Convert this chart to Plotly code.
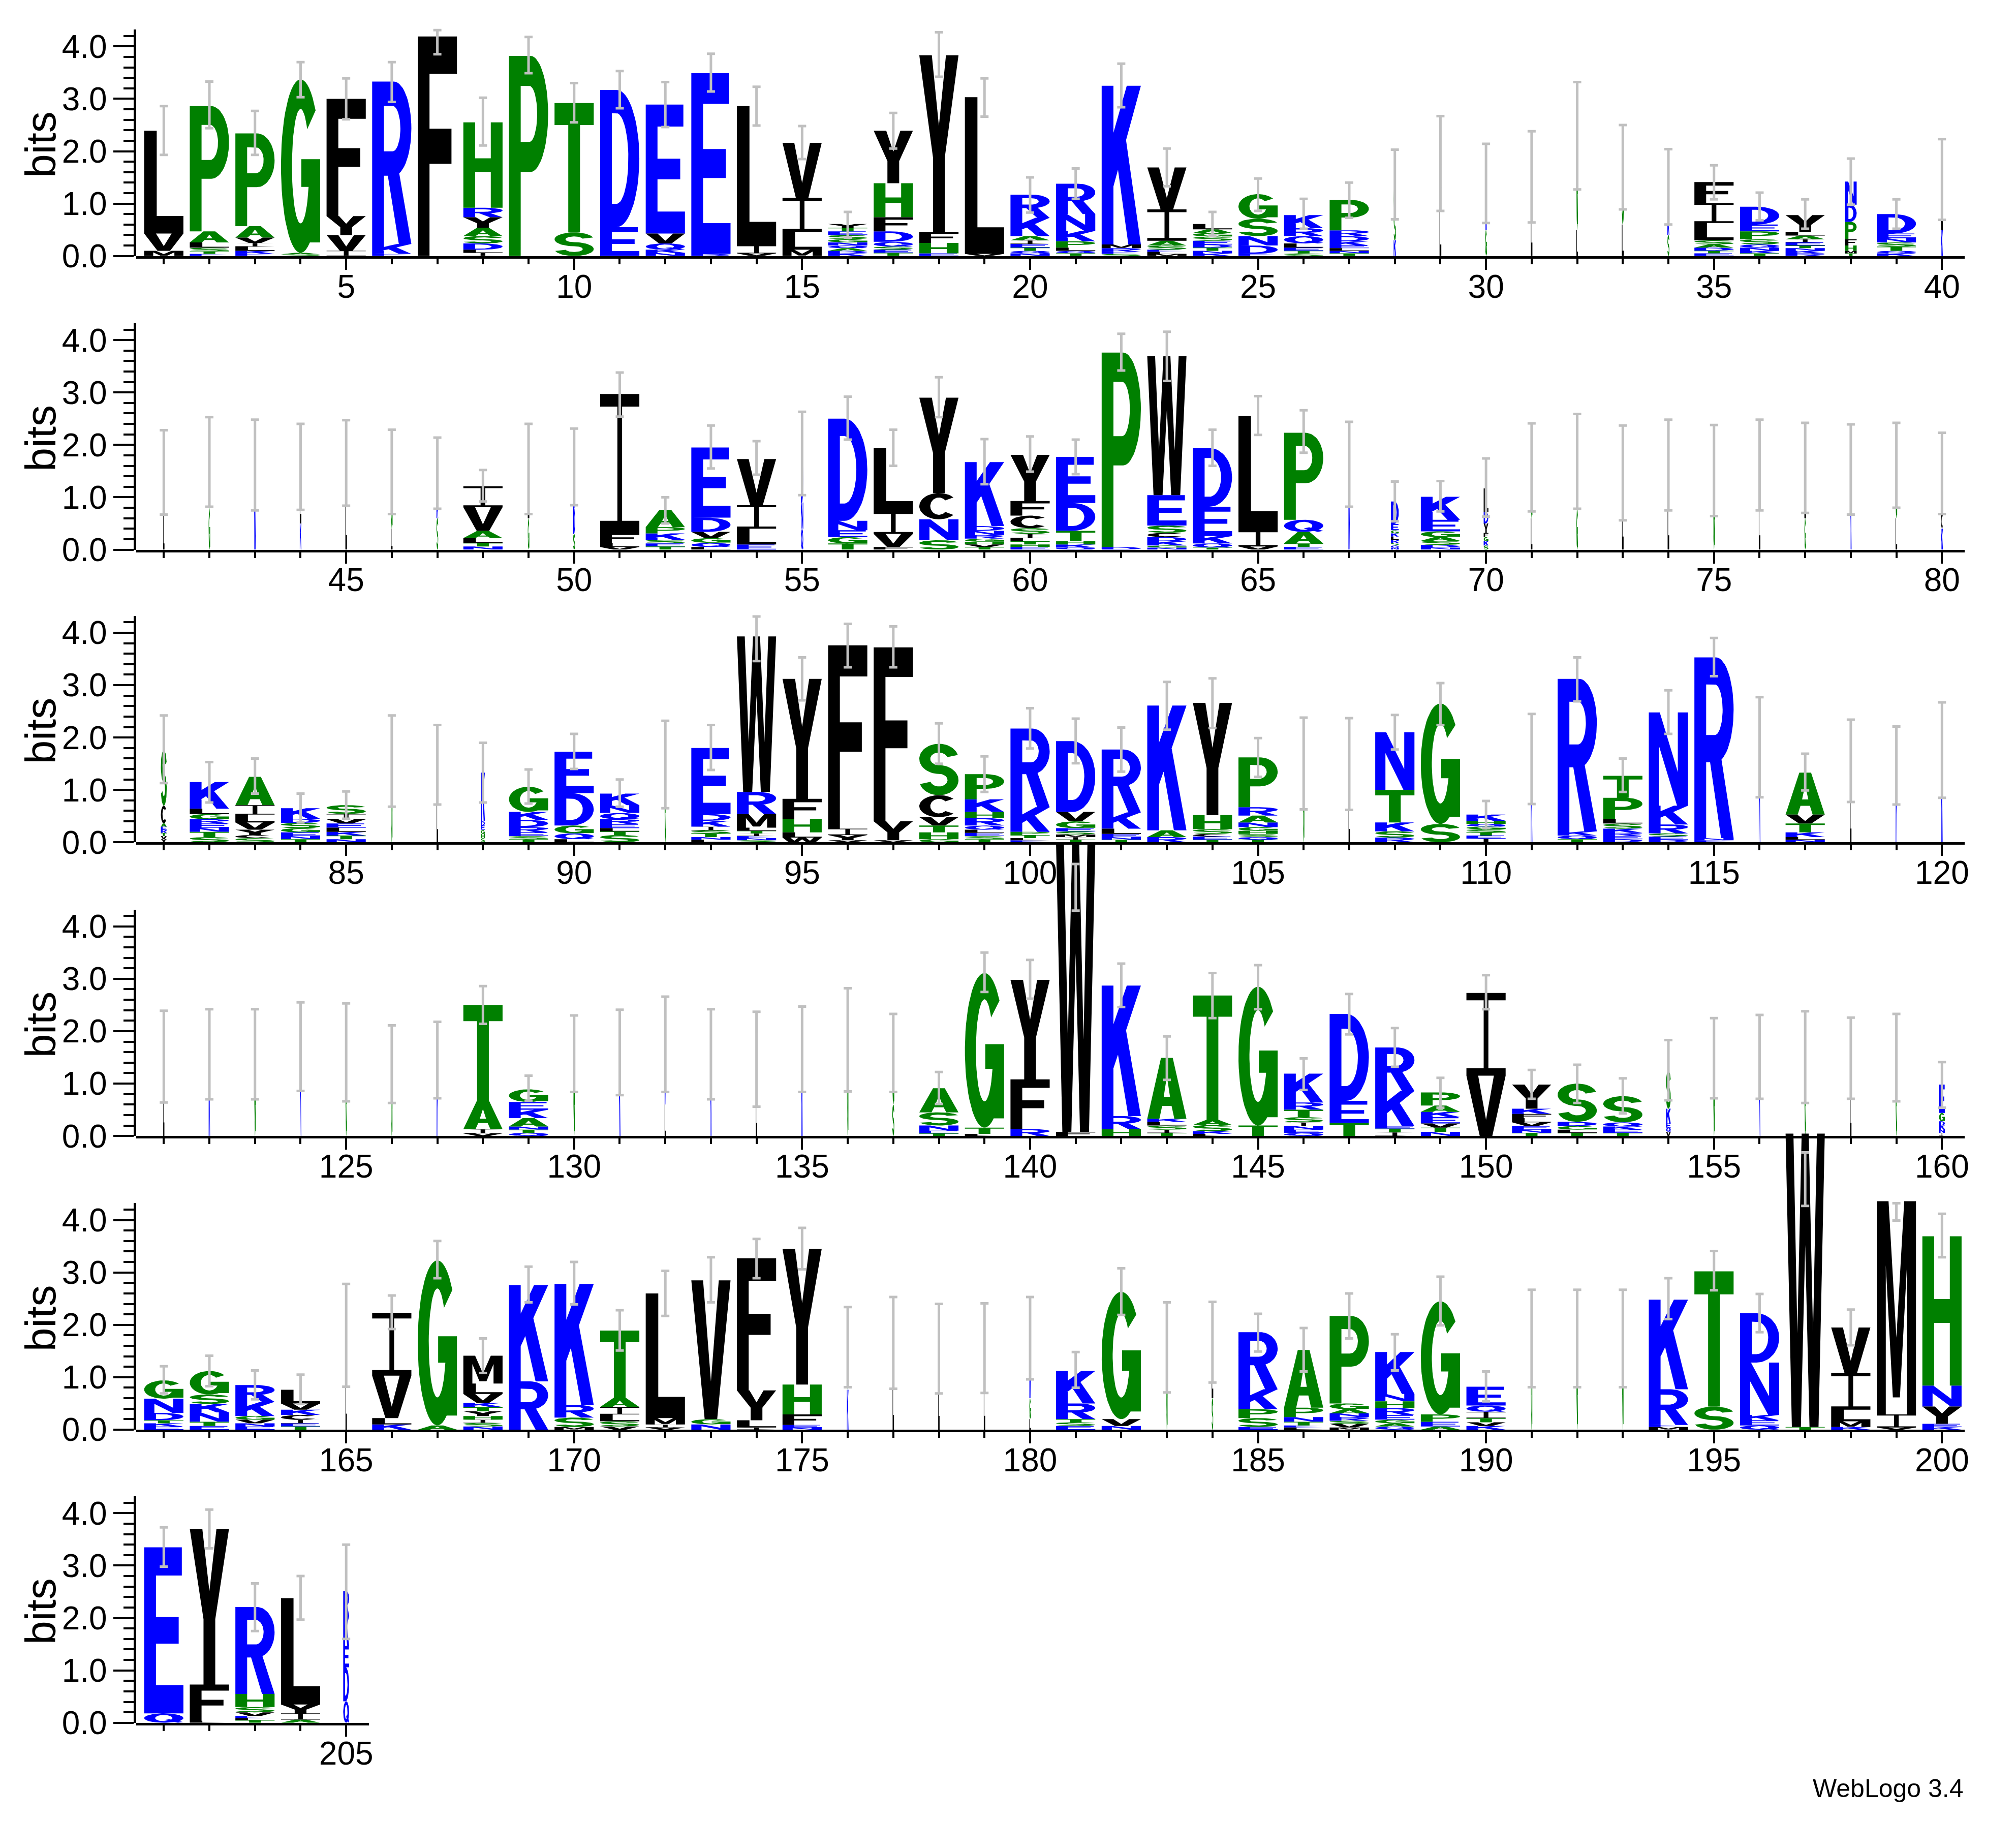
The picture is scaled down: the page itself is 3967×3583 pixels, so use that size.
import math
import plotly.graph_objects as go

# ---------------- data ----------------
# letter stacks per position, bottom -> top, "<letter><bits>"
STACKS = [
 "M.1 V.33 L1.96", "E.04 T.05 S.07 L.1 A.21 P2.39", "E.04 K.06 L.08 I.07 V.1 A.22 P1.77", "S.03 A.03 G3.31",
 "I.1 V.3 Y.36 F2.24", "E.04 K.19 R3.1", "F4.19", "I.06 L.06 D.12 S.14 A.16 Y.2 R.18 H1.63", "P3.82", "S.45 T2.47",
 "E.55 D2.62", "N.06 K.06 Q.12 V.19 E2.46", "D.04 E3.45", "V.05 I.15 L2.66", "M.12 L.34 I.65 V1.05",
 "K.05 D.05 A.05 Q.05 N.06 G.06 S.08 E.07 T.07 Y.07", "T.06 E.06 S.06 Q.09 D.2 F.27 H.65 Y1.0", "E.05 H.2 F.21 Y3.37",
 "V.04 L2.99", "N.05 Q.05 T.06 E.07 I.07 A.08 K.35 R.44",
 "T.05 Q.05 L.06 P.12 K.2 N.32 R.58", "S.04 E.04 R.07 M.07 K3.03", "M.04 L.04 E.04 S.08 A.09 I.6 V.8",
 "K.05 N.05 T.06 D.06 E.07 S.08 G.07 A.07 L.1", "E.04 D.16 N.18 S.33 G.47", "S.05 T.05 E.06 L.08 Q.14 R.15 K.25",
 "T.05 N.05 L.05 E.05 K.08 D.1 R.11 P.58", "K.3 S.5 G.56", "L1.3 K.46", "G.5 K.88",
 "L1.51", "L.5 G1.8", "L.6 S1.09", "S.4 K.3 L.62", "E.05 T.05 D.06 A.06 S.08 L.33 I.38 F.4",
 "T.05 K.05 N.06 Q.06 S.1 P.15 E.13 D.34", "R.05 K.05 N.05 T.05 E.06 I.06 A.07 L.07 Y.32",
 "T.05 M.05 H.1 F.12 P.33 D.33 N.44", "K.05 Q.05 T.08 S.08 N.08 E.09 D.37", "K.5 L.96",
 "L.7 K.77", "G.8 K.87", "K1.61", "K.5 L1.08", "L1.65", "L.4 G1.08", "S.6 K.3 G.56", "N.06 T.07 L.09 A.14 V.45 I.4",
 "G.6 L.94", "S.3 D.5 K.78",
 "V.05 L.08 F.18 I2.66", "T.06 E.06 S.07 K.12 P.12 A.33", "L.05 Q.08 G.09 V.12 D.27 E1.34", "E.1 L.3 I.45 V.88",
 "Q.4 N.5 D.93", "T.12 G.12 E.13 N.18 D1.95", "F.05 V.25 I.42 L1.22", "S.18 N.4 C.5 Y1.82",
 "T.05 V.05 H.05 G.06 R.07 N.08 D.09 K1.22", "E.05 H.05 T.06 L.06 I.08 S.11 C.24 F.28 Y.88",
 "Q.04 K.06 H.06 T.2 D.53 E.88", "D.05 P3.71", "N.04 G.04 K.08 D.08 C.08 S.14 E.58 W2.65",
 "T.04 Q.08 K.14 E.56 D1.12", "V.06 I.3 L2.19", "E.05 T.07 A.22 Q.23 P1.66", "K1.63",
 "N.04 Q.04 S.05 R.06 L.06 K.06 G.06 E.12 D.43", "N.04 D.05 S.08 A.07 G.11 E.22 K.44",
 "S.08 K.08 G.08 F.08 Y.18 D.22 L.45",
 "L.6 G.97", "G.8 L.88", "L1.47", "L1.61", "G1.51", "L1.61", "G.6 L.96", "K1.53", "L.6 G1.01", "K.4 C.3 G.76",
 "Y.06 V.06 T.06 R.06 E.06 A.06 C.34 S1.06", "S.1 T.1 N.08 E.08 R.08 G.1 L.1 K.51",
 "S.08 C.06 Y.1 V.14 L.15 I.18 A.54", "T.06 N.06 E.07 G.08 S.1 D.08 K.2", "N.06 T.07 K.07 L.08 E.08 V.08 I.1 S.17",
 "G1.55", "L1.48", "S.08 H.08 G.08 E.08 D.08 K.93", "T.06 S.06 E.07 R.1 D.14 K.15 G.48", "L.06 Q.11 G.15 D.62 E.79",
 "S.14 T.07 L.06 E.08 R.09 Q.12 N.15 K.22", "G1.48", "L.05 N.05 T.07 S.06 I.07 K.11 D.13 E1.26",
 "S.04 N.04 E.04 I.05 T.05 L.06 M.26 R.42 W2.97", "W.09 L.1 H.26 F.38 Y2.29", "V.04 Y.1 I.12 F3.5",
 "V.04 Y.36 F3.32", "G.06 H.13 T.13 V.16 C.42 S.98", "T.06 S.06 E.06 L.06 Q.08 R.14 H.12 K.24 P.48",
 "E.04 L.04 T.06 P.06 K.47 R1.5",
 "T.05 I.05 M.05 S.06 E.06 G.13 V.18 D1.35", "T.05 N.05 E.06 L.1 K.31 R1.2", "R.1 A.13 K2.38",
 "T.05 E.06 C.05 S.09 H.27 Y2.14", "T.05 Q.05 S.06 H.06 G.07 N.09 A.13 R.16 P.95", "G1.5", "L1.5",
 "R.09 S.12 K.17 T.62 N1.1", "S.35 G2.3", "I.07 E.06 T.06 S.06 G.05 Q.05 H.06 K.12",
 "K1.59", "T.06 Q.07 K.08 R2.91", "D.06 E.06 R.06 K.08 S.1 L.09 P.4 T.42", "D.05 E.06 S.06 R.17 K.36 N1.78",
 "E.04 N.04 R3.45", "K1.81", "N.05 L.05 K.09 T.17 V.17 A.8", "L1.55", "K1.46", "K1.76",
 "L1.52", "K1.56", "G1.56", "K1.70", "G1.60", "G1.37", "K1.45", "V.05 I.08 A.55 T1.82",
 "Q.06 T.06 N.06 A.16 K.16 E.15 G.24", "G1.57",
 "K1.59", "L.6 K1.15", "K1.56", "L1.46", "K1.66", "G1.83", "S.6 G.99", "T.05 E.05 N.1 S.25 A.46",
 "L.04 T.12 G2.95", "R.13 F.95 Y1.9",
 "F.08 W5.49", "H.13 R.25 K2.49", "T.06 I.06 S.08 L.07 K.06 A1.16", "L.04 K.05 S.12 A.1 T2.37", "T.2 G2.65",
 "Q.06 E.06 N.07 I.07 S.1 T.14 R.14 K.55", "T.25 E.42 D1.66", "I.07 T.07 E.05 K.67 R.83",
 "N.08 T.08 V.08 E.12 K.1 A.12 P.25", "V1.15 I1.58",
 "T.06 N.06 E.07 V.07 L.08 F.08 K.1 Y.46", "T.06 L.06 G.07 D.08 S.73", "T.06 E.06 K.06 Q.08 S.5",
 "V.08 Q.08 E.08 K.28 S.72", "G1.49", "K1.51", "G1.50", "L1.48", "G1.49", "I.06 N.07 K.07 D.08 G.16 E.54",
 "E.06 K.06 T.06 D.14 N.27 G.35", "E.07 T.08 N.18 K.16 S.18 G.45", "E.06 N.06 V.07 G.07 K.27 R.32",
 "T.06 E.06 I.07 C.09 K.1 V.12 L.26", "L1.8", "K.1 L.12 V.81 I1.2", "A.08 G3.15",
 "N.06 S.07 I.06 H.07 Y.09 T.08 K.08 V.17 L.2 M.53", "R.92 K1.84", "M.05 S.18 R.24 K2.31",
 "V.06 S.1 L.13 I.14 A.18 T1.28", "V.04 I.06 M.12 L2.38", "N.1 G.1 V2.65", "I.04 L.14 Y.57 F2.52",
 "N.04 E.05 F.2 H.57 Y2.59", "K.76 G.8", "L1.65", "L1.54", "L1.55", "L.2 G.4 K1.14",
 "E.07 S.07 T.06 R.3 K.62", "N.07 V.13 G2.43", "G1.57", "S.6 L1.07", "E.05 S.17 P.17 K.38 R1.09",
 "L.04 E.04 T.07 N.09 P.18 A1.1", "M.04 V.07 S.06 R.07 N.07 A.08 G.11 P1.67",
 "Q.06 A.06 G.07 E.09 R.13 H.13 N.14 K.8", "A.06 E.09 P.14 G2.16", "K.07 V.07 T.08 I.12 Q.12 E.36",
 "G1.74", "G1.74", "G1.74", "M.05 E.04 R.68 K1.71", "S.44 T2.58", "Q.08 E.1 K.1 N1.0 D.94", "T.05 W5.6",
 "K.05 M.11 L.22 I.7 V.87", "V.04 I.25 M4.07", "K.05 E.06 Y.33 N.4 H2.85",
 "Q.18 E3.17", "L.04 F.69 Y2.97", "T.05 L.04 E.04 V.07 S.1 H.25 R1.66", "A.06 I.12 Y.17 L2.03",
 "Q.41 D.65 E.41 K.57 R.47",
]

# fraction of full letter width (columns with many gaps are narrow)
COL_WIDTH = [
 1, 1, 1, 1, 1, 1, 1, 1, 1, 1,
 1, 1, 1, 1, 1, 1, 1, 1, 1, 1,
 1, 1, 1, 1, 1, 1, 1, .06, .045, .045,
 .04, .04, .05, .05, 1, 1, 1, .3, 1, .045,
 .035, .04, .04, .04, .04, .04, .045, 1, .04, .05,
 1, 1, 1, 1, .06, 1, 1, 1, 1, 1,
 1, 1, 1, 1, 1, 1, .04, .2, 1, .12,
 .04, .04, .04, .04, .04, .04, .04, .04, .04, .05,
 .15, 1, 1, 1, 1, .035, .035, .1, 1, 1,
 1, .04, 1, 1, 1, 1, 1, 1, 1, 1,
 1, 1, 1, 1, 1, .035, .035, 1, 1, 1,
 .04, 1, 1, 1, 1, .04, 1, .035, .035, .035,
 .03, .035, .035, .035, .035, .035, .035, 1, 1, .035,
 .035, .035, .035, .035, .035, .035, .05, 1, 1, 1,
 1, 1, 1, 1, 1, 1, 1, 1, 1, 1,
 1, 1, 1, .12, .035, .035, .035, .035, .035, .15,
 1, 1, 1, 1, .035, 1, 1, 1, 1, 1,
 1, 1, 1, 1, 1, .04, .035, .035, .035, .04,
 1, 1, .035, .04, 1, 1, 1, 1, 1, 1,
 .035, .035, .035, 1, 1, 1, 1, 1, 1, 1,
 1, 1, 1, 1, .15,
]

# error bar ends (bits)
ERR_LO = [
 1.93, 2.44, 1.93, 3.03, 2.61, 2.94, 3.85, 2.11, 3.49, 2.55,
 2.82, 2.46, 3.14, 2.49, 1.85, .35, 2.05, 3.42, 2.66, .83,
 1.09, 2.84, 1.33, .39, .86, .52, .73, .70, .86, .63,
 .64, 1.27, .89, .60, 1.08, .68, .52, .98, .52, .69,
 .67, .82, .75, .76, .84, .68, .78, .92, .68, .85,
 2.54, .50, 1.55, 1.43, 1.04, 2.10, 1.60, 2.53, 1.25, 1.49,
 1.44, 3.42, 3.22, 1.60, 2.19, 1.85, .82, .54, .73, .63,
 .73, .78, .56, .75, .64, .75, .70, .67, .80, .68,
 1.13, .76, .93, .38, .45, .68, .72, .76, .74, 1.40,
 .68, .65, 1.38, 3.46, 2.71, 3.34, 3.34, 1.50, .96, 1.79,
 1.51, 1.35, 2.15, 2.18, 1.25, .63, .62, 1.77, 2.24, .27,
 .73, 2.69, .96, 2.07, 3.17, .86, .99, .77, .72, .85,
 .64, .70, .70, .86, .66, .63, .72, 2.14, .67, .84,
 .78, .84, .70, .56, .84, .85, .84, .61, 2.75, 2.62,
 4.30, 2.46, 1.07, 2.25, 2.42, .88, 1.94, 1.32, .54, 2.42,
 .71, .63, .43, .68, .72, .71, .63, .71, .66, .54,
 .69, .83, .58, .49, .82, 1.92, 2.89, 1.08, 2.43, 2.39,
 1.51, 2.17, 2.43, 2.89, 3.06, .81, .78, .69, .70, .96,
 .80, 2.19, .71, .90, 1.49, 1.11, 1.74, 1.13, 1.99, .54,
 .81, .81, .81, 2.11, 2.66, 1.86, 4.27, 1.61, 3.99, 3.29,
 2.98, 3.33, 1.75, 1.97, 1.60,
]
ERR_HI = [
 2.86, 3.33, 2.77, 3.70, 3.39, 3.70, 4.31, 3.02, 4.18, 3.30,
 3.53, 3.32, 3.86, 3.23, 2.48, .84, 2.73, 4.27, 3.39, 1.50,
 1.67, 3.67, 2.05, .84, 1.48, 1.09, 1.40, 2.03, 2.67, 2.14,
 2.38, 3.32, 2.50, 2.04, 1.73, 1.21, 1.08, 1.86, 1.08, 2.23,
 2.28, 2.53, 2.48, 2.40, 2.47, 2.29, 2.14, 1.52, 2.40, 2.31,
 3.38, 1.00, 2.37, 2.07, 2.63, 2.92, 2.29, 3.29, 2.11, 2.16,
 2.10, 4.12, 4.16, 2.29, 2.93, 2.66, 2.44, 1.30, 1.31, 1.74,
 2.41, 2.59, 2.37, 2.48, 2.38, 2.48, 2.42, 2.39, 2.42, 2.23,
 2.42, 1.53, 1.60, .93, .97, 2.42, 2.24, 1.90, 1.39, 2.07,
 1.20, 2.32, 2.24, 4.31, 3.53, 4.17, 4.12, 2.27, 1.64, 2.56,
 2.36, 2.19, 3.06, 3.13, 1.99, 2.38, 2.37, 2.43, 3.04, .79,
 2.45, 3.53, 1.60, 2.90, 3.90, 2.77, 1.69, 2.34, 2.21, 2.67,
 2.39, 2.42, 2.42, 2.55, 2.53, 2.11, 2.18, 2.86, 1.15, 2.30,
 2.41, 2.66, 2.42, 2.37, 2.47, 2.82, 2.33, 1.22, 3.50, 3.36,
 5.19, 3.29, 1.90, 3.11, 3.26, 1.48, 2.71, 2.06, 1.11, 3.07,
 1.26, 1.36, 1.10, 1.83, 2.25, 2.31, 2.38, 2.26, 2.33, 1.41,
 1.21, 1.41, 1.13, 1.05, 2.78, 2.56, 3.60, 1.74, 3.11, 3.20,
 2.28, 3.03, 3.29, 3.64, 3.85, 2.34, 2.53, 2.40, 2.41, 2.53,
 1.48, 3.08, 2.43, 2.44, 2.21, 1.94, 2.60, 1.82, 2.92, 1.11,
 2.67, 2.67, 2.67, 2.89, 3.41, 2.59, 5.29, 2.29, 4.32, 4.12,
 3.73, 4.07, 2.66, 2.80, 3.40,
]

ROW_RANGES = [(1, 40), (41, 80), (81, 120), (121, 160), (161, 200), (201, 205)]
Y_TICKS = [0, 1, 2, 3, 4]
Y_TICK_TEXT = ["0.0", "1.0", "2.0", "3.0", "4.0"]
MAX_BITS = math.log2(20)

# ---------------- styling / layout ----------------
W, H = 3967, 3583
PX_PER_BIT = 104.2
PX_PER_POS = 89.9
BASE_PX = [499, 1083, 1665, 2249, 2833, 3416]
X_LEFT_PX = 261
LETTER_W = 0.86
BLUE, GREEN, BLACK = "#0000ff", "#008000", "#000000"
ERR_COLOR = "#c0c0c0"
FONT = "Liberation Sans, Arial, Helvetica, sans-serif"

COLOR_OF = {}
for c in "RKDENQ":
    COLOR_OF[c] = BLUE
for c in "SGHTAP":
    COLOR_OF[c] = GREEN
for c in "YVMCLFIW":
    COLOR_OF[c] = BLACK


# ---------------- glyph outlines in a unit box ----------------
def arc(cx, cy, rx, ry, a0, a1, step=6):
    n = max(2, int(abs(a1 - a0) / step) + 1)
    pts = []
    for i in range(n):
        a = math.radians(a0 + (a1 - a0) * i / (n - 1))
        pts.append((cx + rx * math.cos(a), cy + ry * math.sin(a)))
    return pts


def area(p):
    s = 0
    for i in range(len(p)):
        x0, y0 = p[i]
        x1, y1 = p[(i + 1) % len(p)]
        s += x0 * y1 - x1 * y0
    return s / 2


def ccw(p):
    return p if area(p) > 0 else p[::-1]


def ring(cx, cy, rxo, ryo, rxi, ryi, a0, a1):
    return ccw(arc(cx, cy, rxo, ryo, a0, a1) + arc(cx, cy, rxi, ryi, a1, a0))


def holed(outer, inner):
    o = ccw(outer)
    i = ccw(inner)[::-1]
    return o + [o[0]] + i + [i[0]]


def rect(x0, y0, x1, y1):
    return [(x0, y0), (x1, y0), (x1, y1), (x0, y1)]


P_OUT = [(0, 0), (0, 1), (0.55, 1)] + arc(0.55, 0.71, 0.45, 0.29, 90, -90) + [(0.3, 0.42), (0.3, 0)]
P_IN = [(0.3, 0.57), (0.52, 0.57)] + arc(0.52, 0.71, 0.2, 0.14, -90, 90) + [(0.3, 0.85)]
D_OUT = [(0, 0), (0, 1), (0.42, 1)] + arc(0.42, 0.5, 0.58, 0.5, 90, -90)
D_IN = [(0.3, 0.17), (0.42, 0.17)] + arc(0.42, 0.5, 0.3, 0.33, -90, 90) + [(0.3, 0.83)]
A_OUT = [(0, 0), (0.35, 1), (0.65, 1), (1, 0), (0.69, 0), (0.62, 0.21), (0.38, 0.21), (0.31, 0)]
A_IN = [(0.42, 0.36), (0.58, 0.36), (0.5, 0.7)]

GLYPHS = {
    "A": [holed(A_OUT, A_IN)],
    "C": [ring(0.5, 0.5, 0.5, 0.5, 0.22, 0.33, 42, 318)],
    "D": [holed(D_OUT, D_IN)],
    "E": [ccw([(0, 0), (1, 0), (1, .17), (.3, .17), (.3, .42), (.88, .42), (.88, .58), (.3, .58), (.3, .83),
               (.96, .83), (.96, 1), (0, 1)])],
    "F": [ccw([(0, 0), (.3, 0), (.3, .42), (.86, .42), (.86, .58), (.3, .58), (.3, .83), (1, .83), (1, 1), (0, 1)])],
    "G": [ring(0.5, 0.5, 0.5, 0.5, 0.22, 0.33, 40, 340), rect(.52, .38, 1, .54), rect(.74, .06, 1, .54)],
    "H": [ccw([(0, 0), (.3, 0), (.3, .42), (.7, .42), (.7, 0), (1, 0), (1, 1), (.7, 1), (.7, .58), (.3, .58),
               (.3, 1), (0, 1)])],
    "I": [ccw([(0, 0), (1, 0), (1, .09), (.56, .09), (.56, .91), (1, .91), (1, 1), (0, 1), (0, .91), (.44, .91),
               (.44, .09), (0, .09)])],
    "K": [rect(0, 0, .3, 1), ccw([(.25, .32), (1, 1), (.64, 1), (.25, .66)]),
          ccw([(.4, .5), (.68, 0), (1, 0), (.62, .66)])],
    "L": [ccw([(0, 0), (1, 0), (1, .17), (.32, .17), (.32, 1), (0, 1)])],
    "M": [ccw([(0, 0), (0, 1), (.3, 1), (.5, .36), (.7, 1), (1, 1), (1, 0), (.77, 0), (.77, .7), (.59, .08),
               (.41, .08), (.23, .7), (.23, 0)])],
    "N": [ccw([(0, 0), (0, 1), (.28, 1), (.74, .36), (.74, 1), (1, 1), (1, 0), (.72, 0), (.26, .64), (.26, 0)])],
    "P": [holed(P_OUT, P_IN)],
    "Q": [holed(arc(.5, .5, .5, .5, 0, 360)[:-1], arc(.5, .5, .22, .33, 0, 360)[:-1]),
          ccw([(.5, .28), (.86, 0), (1, .08), (.64, .38)])],
    "R": [holed(P_OUT, P_IN), ccw([(.38, .45), (.68, .45), (1, 0), (.68, 0)])],
    "S": [ring(.5, .7075, .5, .2925, .22, .1225, 15, 270), ring(.5, .2925, .5, .2925, .22, .1225, 90, -165)],
    "T": [ccw([(0, .83), (0, 1), (1, 1), (1, .83), (.65, .83), (.65, 0), (.35, 0), (.35, .83)])],
    "V": [ccw([(0, 1), (.3, 1), (.5, .27), (.7, 1), (1, 1), (.66, 0), (.34, 0)])],
    "W": [ccw([(0, 1), (.2, 1), (.3, .32), (.41, 1), (.59, 1), (.7, .32), (.8, 1), (1, 1), (.84, 0), (.61, 0),
               (.5, .62), (.39, 0), (.16, 0)])],
    "Y": [ccw([(0, 1), (.32, 1), (.5, .6), (.68, 1), (1, 1), (.65, .42), (.65, 0), (.35, 0), (.35, .42)])],
}


def parse(stack):
    out = []
    for tok in stack.split():
        out.append((tok[0], float(tok[1:])))
    return out


fig = go.Figure()


def paper_y(px):
    return 1 - px / H


for r, (s, e) in enumerate(ROW_RANGES):
    xid = "x" if r == 0 else f"x{r + 1}"
    ydid = "y" if r == 0 else f"y{r + 1}"
    yvid = f"y{r + 7}"
    x0r, x1r = s - 0.6, e + 0.5
    dom_x = [X_LEFT_PX / W, (X_LEFT_PX + (x1r - x0r) * PX_PER_POS) / W]
    base = BASE_PX[r]
    data_top_bits = min(5.9, base / PX_PER_BIT - 0.02)
    dom_yd = [paper_y(base), paper_y(base - data_top_bits * PX_PER_BIT)]
    dom_yv = [paper_y(base), paper_y(base - MAX_BITS * PX_PER_BIT)]

    polys = {BLUE: ([], []), GREEN: ([], []), BLACK: ([], [])}
    for p in range(s, e + 1):
        i = p - 1
        y0 = 0.0
        half = LETTER_W * COL_WIDTH[i] / 2
        for letter, h in parse(STACKS[i]):
            col = COLOR_OF[letter]
            xs, ys = polys[col]
            for poly in GLYPHS[letter]:
                for (u, v) in poly + [poly[0]]:
                    xs.append(p - half + u * 2 * half)
                    ys.append(y0 + v * h)
                xs.append(None)
                ys.append(None)
            y0 += h

    for col, (xs, ys) in polys.items():
        fig.add_trace(go.Scatter(x=xs, y=ys, xaxis=xid, yaxis=ydid, mode="lines", fill="toself",
                                 fillcolor=col, line=dict(width=0, color=col), hoverinfo="skip",
                                 showlegend=False))

    pos = list(range(s, e + 1))
    lo = [ERR_LO[p - 1] for p in pos]
    hi = [ERR_HI[p - 1] for p in pos]
    mid = [(a + b) / 2 for a, b in zip(lo, hi)]
    fig.add_trace(go.Scatter(
        x=pos, y=mid, xaxis=xid, yaxis=ydid, mode="markers",
        marker=dict(size=1, color="rgba(0,0,0,0)"),
        error_y=dict(type="data", symmetric=False, array=[b - m for b, m in zip(hi, mid)],
                     arrayminus=[m - a for a, m in zip(lo, mid)], color=ERR_COLOR, thickness=5, width=8),
        hoverinfo="skip", showlegend=False))
    # anchor trace for the visible bits axis
    fig.add_trace(go.Scatter(x=[s], y=[0], xaxis=xid, yaxis=yvid, mode="markers",
                             marker=dict(size=1, color="rgba(0,0,0,0)"), hoverinfo="skip", showlegend=False))

    major = [v for v in range(s, e + 1) if v % 5 == 0]
    fig.layout["xaxis" if r == 0 else f"xaxis{r + 1}"] = dict(
        domain=dom_x, range=[x0r, x1r], anchor=ydid, showline=True, linewidth=5, linecolor="black",
        ticks="outside", tickmode="array", tickvals=major, ticktext=[str(v) for v in major],
        ticklen=22, tickwidth=4, tickcolor="black", ticklabelstandoff=-22,
        minor=dict(tickmode="array", tickvals=pos, ticks="outside", ticklen=11, tickwidth=4, tickcolor="black"),
        showgrid=False, zeroline=False, tickfont=dict(family=FONT, size=64, color="black"), fixedrange=True)
    fig.layout["yaxis" if r == 0 else f"yaxis{r + 1}"] = dict(
        domain=dom_yd, range=[0, data_top_bits], anchor=xid, visible=False, showgrid=False, zeroline=False,
        fixedrange=True)
    minor_y = [round(0.2 * j, 1) for j in range(1, 22) if j % 5 != 0]
    fig.layout[f"yaxis{r + 7}"] = dict(
        domain=dom_yv, range=[0, MAX_BITS], anchor=xid, showline=True, linewidth=5, linecolor="black",
        ticks="outside", tickmode="array", tickvals=Y_TICKS, ticktext=Y_TICK_TEXT, ticklen=40, tickwidth=4,
        tickcolor="black",
        minor=dict(tickmode="array", tickvals=minor_y, ticks="outside", ticklen=20, tickwidth=4, tickcolor="black"),
        showgrid=False, zeroline=False, tickfont=dict(family=FONT, size=64, color="black"), fixedrange=True)
    fig.add_annotation(text="bits", x=72 / W, y=paper_y(base - 222), xref="paper", yref="paper",
                       textangle=-90, showarrow=False, xanchor="center", yanchor="middle",
                       font=dict(family=FONT, size=84, color="black"))

fig.add_annotation(text="WebLogo 3.4", x=3866 / W, y=paper_y(3547), xref="paper", yref="paper",
                   showarrow=False, xanchor="right", yanchor="middle", font=dict(family=FONT, size=50, color="black"))

fig.update_layout(width=W, height=H, autosize=False, margin=dict(l=0, r=0, t=0, b=0),
                  paper_bgcolor="white", plot_bgcolor="rgba(0,0,0,0)", showlegend=False)

fig.write_html("out.html")
